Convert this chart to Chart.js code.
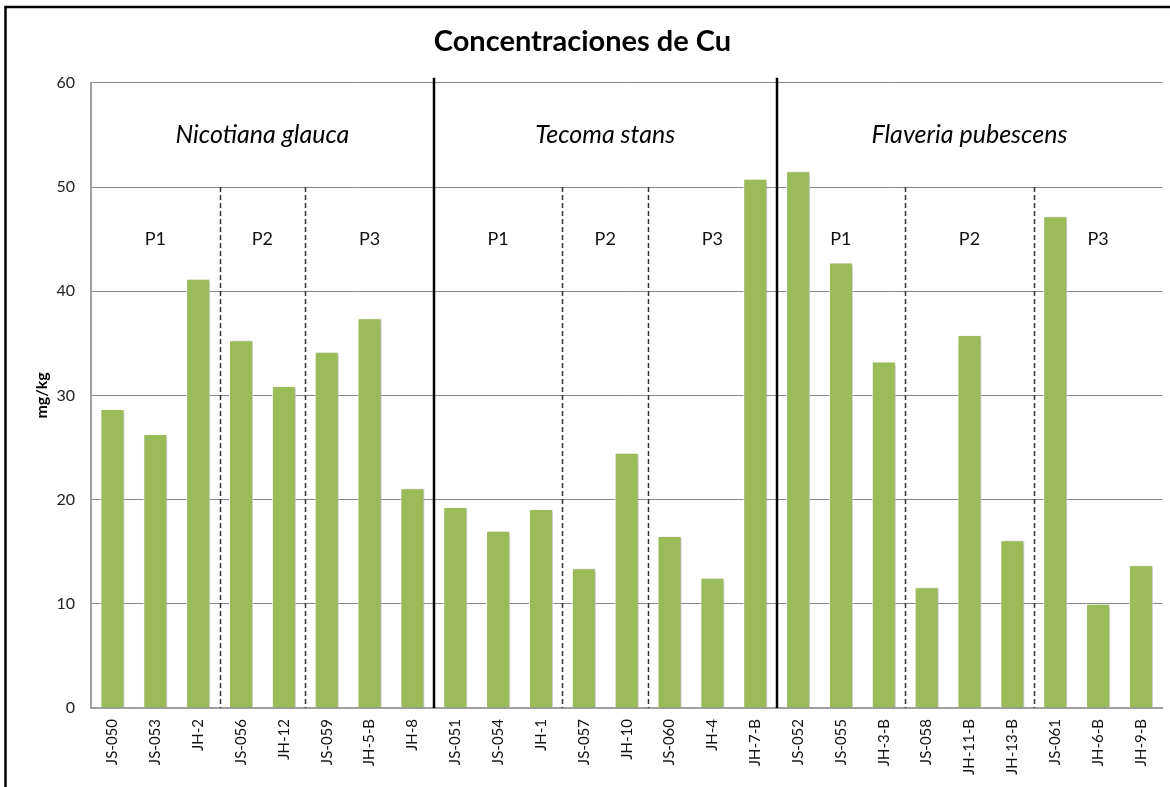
<!DOCTYPE html>
<html>
<head>
<meta charset="utf-8">
<script src="https://cdn.jsdelivr.net/npm/chart.js@4/dist/chart.umd.min.js"></script>
<style>
  html, body { margin: 0; padding: 0; background: #fff; }
  #wrap { position: relative; width: 1170px; height: 787px; }
  canvas { display: block; }
</style>
</head>
<body>
<div id="wrap"><canvas id="c" width="1170" height="787"></canvas></div>
<script>
// ---- data ----
const categories = ["JS-050","JS-053","JH-2","JS-056","JH-12","JS-059","JH-5-B","JH-8",
                    "JS-051","JS-054","JH-1","JS-057","JH-10","JS-060","JH-4","JH-7-B",
                    "JS-052","JS-055","JH-3-B","JS-058","JH-11-B","JH-13-B","JS-061","JH-6-B","JH-9-B"];
const cuValues = [28.7, 26.3, 41.2, 35.3, 30.9, 34.2, 37.4, 21.1,
                  19.3, 17.0, 19.1, 13.4, 24.5, 16.5, 12.5, 50.8,
                  51.5, 42.75, 33.25, 11.6, 35.8, 16.1, 47.2, 10.0, 13.7];
const species = ["Nicotiana glauca", "Tecoma stans", "Flaveria pubescens"];
const speciesSizes = [8, 8, 9];
const plotLabels = ["P1", "P2", "P3"];
const plotSizes = [[3, 2, 3], [3, 2, 3], [3, 3, 3]];
const yTicks = [0, 10, 20, 30, 40, 50, 60];
const chartTitle = "Concentraciones de Cu";
const yTitle = "mg/kg";

const FONT = "Lato, 'Open Sans', sans-serif";

const groupsPlugin = {
  id: 'groups',
  afterDatasetsDraw(chart) {
    const {ctx, scales: {x, y}, chartArea} = chart;
    ctx.save();
    ctx.shadowColor = 'transparent';
    let start = 0;
    species.forEach((name, gi) => {
      const end = start + speciesSizes[gi];
      const cx = (x.getPixelForValue(start - 0.5) + x.getPixelForValue(end - 0.5)) / 2;
      ctx.fillStyle = '#000';
      ctx.font = "italic 25px " + FONT;
      ctx.textAlign = 'center';
      ctx.textBaseline = 'middle';
      ctx.fillText(name, cx, y.getPixelForValue(55));
      let s = start;
      plotSizes[gi].forEach((n, pi) => {
        const e = s + n;
        const px = (x.getPixelForValue(s - 0.5) + x.getPixelForValue(e - 0.5)) / 2;
        ctx.font = "18px " + FONT;
        ctx.fillStyle = '#111';
        ctx.fillText(plotLabels[pi], px, y.getPixelForValue(45));
        if (pi < plotSizes[gi].length - 1) {
          const lx = Math.round(x.getPixelForValue(e - 0.5)) + 0.5;
          ctx.beginPath();
          ctx.setLineDash([5, 3]);
          ctx.lineWidth = 1.5;
          ctx.strokeStyle = '#333';
          ctx.moveTo(lx, y.getPixelForValue(50));
          ctx.lineTo(lx, y.getPixelForValue(0));
          ctx.stroke();
          ctx.setLineDash([]);
        }
        s = e;
      });
      if (gi < species.length - 1) {
        const lx = Math.round(x.getPixelForValue(end - 0.5));
        ctx.beginPath();
        ctx.lineWidth = 2.5;
        ctx.strokeStyle = '#000';
        ctx.moveTo(lx, chartArea.top - 5);
        ctx.lineTo(lx, y.getPixelForValue(0));
        ctx.stroke();
      }
      start = end;
    });
    ctx.restore();
  }
};

const shadowPlugin = {
  id: 'barShadow',
  beforeDatasetsDraw(chart) {
    const ctx = chart.ctx;
    ctx.save();
    ctx.shadowColor = 'rgba(0,0,0,0.28)';
    ctx.shadowBlur = 3;
    ctx.shadowOffsetX = 2;
    ctx.shadowOffsetY = 1;
  },
  afterDatasetsDraw(chart) {
    chart.ctx.restore();
  }
};

const framePlugin = {
  id: 'frame',
  afterDraw(chart) {
    const ctx = chart.ctx;
    ctx.save();
    ctx.strokeStyle = '#000';
    ctx.lineWidth = 2.5;
    ctx.beginPath();
    ctx.moveTo(5.5, 800);
    ctx.lineTo(5.5, 7);
    ctx.lineTo(1180, 7);
    ctx.stroke();
    ctx.restore();
  }
};

new Chart(document.getElementById('c'), {
  type: 'bar',
  data: {
    labels: categories,
    datasets: [{
      data: cuValues,
      backgroundColor: '#9BBB59',
      borderColor: 'rgba(255,255,255,0.9)',
      borderWidth: 1,
      barPercentage: 0.56,
      categoryPercentage: 1.0
    }]
  },
  options: {
    responsive: false,
    animation: false,
    devicePixelRatio: 1,
    layout: { padding: { left: 0, right: 5, top: 0, bottom: 0 } },
    plugins: {
      legend: { display: false },
      tooltip: { enabled: false },
      title: {
        display: true,
        text: chartTitle,
        color: '#000',
        font: { family: FONT, size: 29, weight: 'bold' },
        padding: { top: 24, bottom: 24 }
      }
    },
    scales: {
      x: {
        grid: { display: false, drawTicks: false },
        border: { display: true, color: '#a0a0a0', width: 2 },
        ticks: {
          color: '#111',
          font: { family: FONT, size: 15 },
          maxRotation: 90, minRotation: 90,
          padding: 11,
          autoSkip: false
        },
        afterFit(scale) { scale.height = 79; }
      },
      y: {
        min: 0, max: 60,
        afterBuildTicks(scale) { scale.ticks = yTicks.map(v => ({ value: v })); },
        grid: { color: '#8a8a8a', lineWidth: 1, drawTicks: false },
        border: { display: true, color: '#a0a0a0', width: 2 },
        ticks: {
          color: '#222',
          font: { family: FONT, size: 16 },
          padding: 16
        },
        title: {
          display: true,
          text: yTitle,
          color: '#000',
          font: { family: FONT, size: 16, weight: 'bold' },
          padding: { top: 32, bottom: 0 }
        },
        afterFit(scale) { scale.width = 91; }
      }
    }
  },
  plugins: [shadowPlugin, groupsPlugin, framePlugin]
});
</script>
</body>
</html>
